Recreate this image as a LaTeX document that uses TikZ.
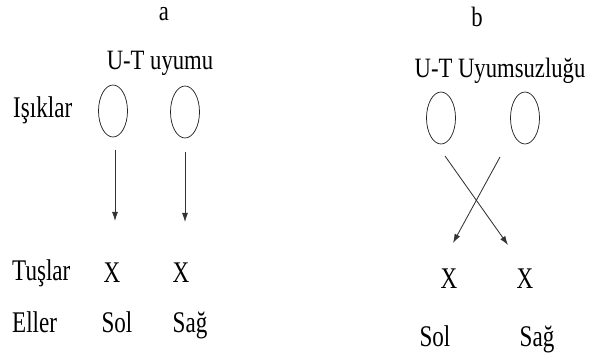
\documentclass[tikz,border=0pt]{standalone}
\usepackage{fontspec}
\setmainfont{Liberation Serif}
\usepackage{graphicx}
\usetikzlibrary{arrows.meta,shapes.geometric}
\newcommand{\nar}[1]{\scalebox{0.77}[1]{#1}}
\newcommand{\ttl}[1]{\scalebox{0.81}[1]{#1}}
\begin{document}
\begin{tikzpicture}[x=1pt,y=-1pt,
  lbl/.style={font=\fontsize{30}{34}\selectfont,inner sep=0pt,anchor=base,text=black},
  tit/.style={font=\fontsize{28}{32}\selectfont,inner sep=0pt,anchor=base,text=black},
  ell/.style={draw=black!85,ellipse,line width=0.75pt,minimum width=29pt,minimum height=52pt,inner sep=0pt},
  arr/.style={draw=black!80,line width=0.85pt,-{Latex[length=9pt,width=6pt]}}]
\useasboundingbox (0,0) rectangle (592,358);
% panel a
\node[tit] (ta) at (164,21) {\ttl{a}};
\node[tit] (ua) at (160,70) {\ttl{U-T uyumu}};
\node[lbl,anchor=base west] (isik) at (13,118) {\nar{Işıklar}};
\node[lbl,anchor=base west] (tus) at (12,280) {\nar{Tuşlar}};
\node[lbl,anchor=base west] (el) at (12,332) {\nar{Eller}};
\node[ell] (ae1) at (113,111) {};
\node[ell] (ae2) at (185,112) {};
\node[lbl] (ax1) at (112,283) {\nar{X}};
\node[lbl] (ax2) at (181,283) {\nar{X}};
\node[lbl] (asol) at (117,332) {\nar{Sol}};
\node[lbl] (asag) at (190,332) {\nar{Sağ}};
\coordinate (a1s) at (115,150);
\coordinate (a1e) at (115,221);
\coordinate (a2s) at (185,152);
\coordinate (a2e) at (185,222);
\draw[arr] (a1s) -- (a1e);
\draw[arr] (a2s) -- (a2e);
% panel b
\node[tit] (tb) at (477,27) {\ttl{b}};
\node[tit] (ub) at (500,78) {\ttl{U-T Uyumsuzluğu}};
\node[ell] (be1) at (441,118) {};
\node[ell] (be2) at (525,118) {};
\node[lbl] (bx1) at (449,289) {\nar{X}};
\node[lbl] (bx2) at (525,289) {\nar{X}};
\node[lbl] (bsol) at (435,346) {\nar{Sol}};
\node[lbl] (bsag) at (537,346) {\nar{Sağ}};
\coordinate (b1s) at (445,156);
\coordinate (b1e) at (508,245);
\coordinate (b2s) at (500,157);
\coordinate (b2e) at (453,243);
\draw[arr] (b1s) -- (b1e);
\draw[arr] (b2s) -- (b2e);
\end{tikzpicture}
\end{document}
